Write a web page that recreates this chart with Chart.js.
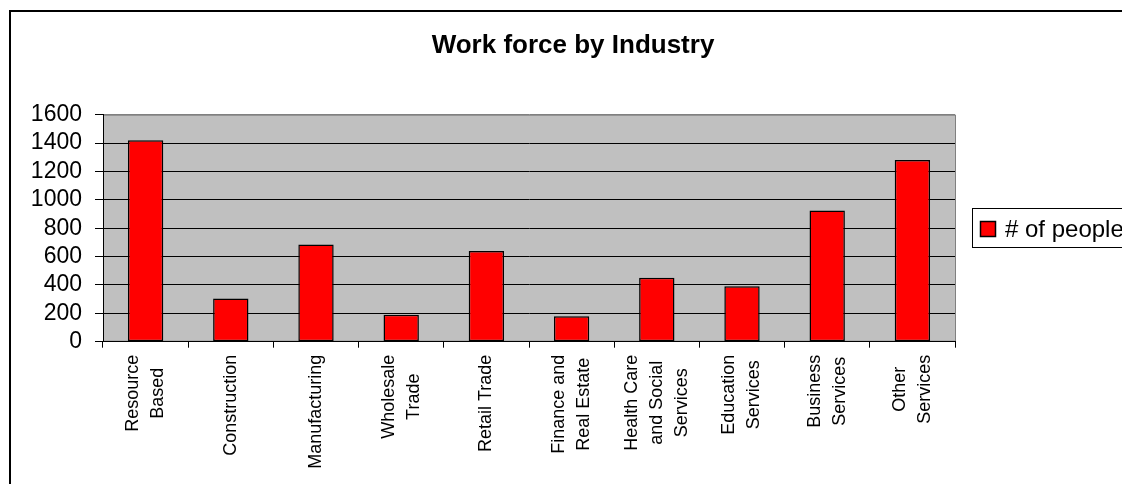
<!DOCTYPE html>
<html>
<head>
<meta charset="utf-8">
<title>Work force by Industry</title>
<script src="https://cdn.jsdelivr.net/npm/chart.js"></script>
<style>
    html, body { margin: 0; padding: 0; background: #fff; overflow: hidden; }
    #wrap { position: relative; width: 1122px; height: 484px; overflow: hidden; }
    #frame { position: absolute; left: 9px; top: 10px; width: 1300px; height: 700px; border-left: 2px solid #000; border-top: 2px solid #000; }
    #chartBox { position: absolute; left: 0; top: 0; width: 1122px; height: 484px; }
</style>
</head>
<body>
<div id="wrap">
    <div id="frame"></div>
    <div id="chartBox"><canvas id="myBarChart"></canvas></div>
</div>
<script>
const chartTitle = 'Work force by Industry';
const seriesLabel = '# of people';
const categories = [
    ['Resource', 'Based'],
    'Construction',
    'Manufacturing',
    ['Wholesale', 'Trade'],
    'Retail Trade',
    ['Finance and', 'Real Estate'],
    ['Health Care', 'and Social', 'Services'],
    ['Education', 'Services'],
    ['Business', 'Services'],
    ['Other', 'Services']
];
const people = [1420, 305, 685, 190, 640, 180, 450, 390, 925, 1280];
const yMin = 0;
const yMax = 1600;
const yStep = 200;

const fontFamily = '"Liberation Sans", Arial, sans-serif';

// grey plot area like the old Excel charts
const plotBackground = {
    id: 'plotBackground',
    beforeDraw(chart) {
        const a = chart.chartArea;
        const c = chart.ctx;
        c.save();
        c.fillStyle = '#c0c0c0';
        c.fillRect(a.left, a.top, a.right - a.left, a.bottom - a.top);
        c.strokeStyle = '#808080';
        c.lineWidth = 1;
        c.strokeRect(a.left + 0.5, a.top + 0.5, a.right - a.left, a.bottom - a.top - 1);
        c.restore();
    }
};

// category names, turned 90 degrees, lines centred on the category
const xLabels = {
    id: 'xLabels',
    afterDraw(chart) {
        const x = chart.scales.x;
        const c = chart.ctx;
        c.save();
        c.font = '18px ' + fontFamily;
        c.fillStyle = '#000';
        c.textAlign = 'center';
        c.textBaseline = 'middle';
        categories.forEach((cat, i) => {
            const lines = Array.isArray(cat) ? cat : [cat];
            const longest = Math.max(...lines.map(l => c.measureText(l).width));
            const cx = x.getPixelForValue(i);
            const cy = x.top + 13 + longest / 2;
            lines.forEach((line, j) => {
                c.save();
                c.translate(cx + (j - (lines.length - 1) / 2) * 25, cy);
                c.rotate(-Math.PI / 2);
                c.fillText(line, 0, 0);
                c.restore();
            });
        });
        c.restore();
    }
};

// legend in a framed box right of the plot
const boxLegend = {
    id: 'boxLegend',
    afterDraw(chart) {
        const a = chart.chartArea;
        const c = chart.ctx;
        const ds = chart.data.datasets[0];
        const left = Math.round(a.right) + 17;
        const mid = Math.round((a.top + a.bottom) / 2);
        c.save();
        c.fillStyle = '#fff';
        c.fillRect(left, mid - 20, 300, 40);
        c.strokeStyle = '#000';
        c.lineWidth = 1;
        c.strokeRect(left + 0.5, mid - 19.5, 300, 39);
        c.fillStyle = ds.backgroundColor;
        c.fillRect(left + 8, mid - 7, 16, 16);
        c.lineWidth = 1.5;
        c.strokeRect(left + 8.5, mid - 6.5, 15, 15);
        c.fillStyle = '#000';
        c.font = '24px ' + fontFamily;
        c.textBaseline = 'middle';
        c.fillText(ds.label, left + 33, mid + 2);
        c.restore();
    }
};

const ctx = document.getElementById('myBarChart').getContext('2d');
new Chart(ctx, {
    type: 'bar',
    data: {
        labels: categories,
        datasets: [{
            label: seriesLabel,
            data: people,
            backgroundColor: '#ff0000',
            borderColor: '#000000',
            borderWidth: 1.5,
            borderSkipped: false,
            categoryPercentage: 1,
            barPercentage: 0.415
        }]
    },
    options: {
        responsive: true,
        maintainAspectRatio: false,
        animation: false,
        layout: {
            padding: { left: 24, right: 0, top: 0, bottom: 0 }
        },
        plugins: {
            legend: { display: false },
            title: {
                display: true,
                text: chartTitle,
                color: '#000',
                font: { family: fontFamily, size: 26, weight: 'bold', lineHeight: 1.2 },
                padding: { top: 30, bottom: 53.5 }
            },
            tooltip: { enabled: true }
        },
        scales: {
            x: {
                offset: true,
                ticks: { display: false },
                grid: {
                    offset: true,
                    drawOnChartArea: false,
                    color: '#000',
                    tickColor: '#000',
                    tickLength: 6
                },
                border: { color: '#000' },
                afterFit(scale) { scale.height = 142.3; }
            },
            y: {
                min: yMin,
                max: yMax,
                ticks: {
                    stepSize: yStep,
                    autoSkip: false,
                    color: '#000',
                    padding: 13,
                    font: { family: fontFamily, size: 23, lineHeight: 1 },
                    callback: v => String(v)
                },
                grid: {
                    color: c => (c.tick && c.tick.value === yMax) ? '#808080' : '#000',
                    tickColor: '#000',
                    tickLength: 8
                },
                border: { color: '#000' },
                afterFit(scale) { scale.width = 79; }
            },
            // empty axis that keeps room for the legend on the right
            side: {
                position: 'right',
                display: true,
                ticks: { display: false },
                grid: { display: false },
                border: { display: false },
                afterFit(scale) { scale.width = 167; }
            }
        }
    },
    plugins: [plotBackground, xLabels, boxLegend]
});
</script>
</body>
</html>
